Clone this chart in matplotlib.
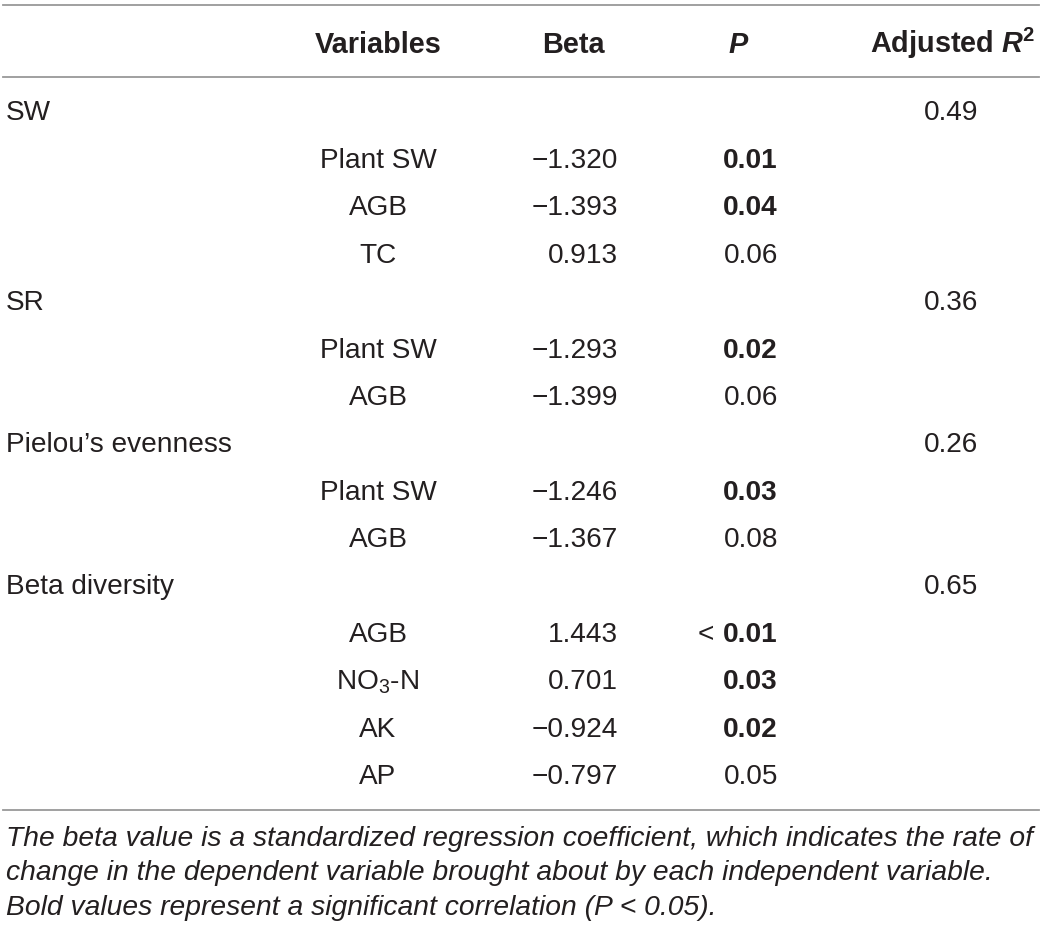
import matplotlib
matplotlib.use("Agg")
import matplotlib.pyplot as plt

plt.rcParams['font.family'] = ['Liberation Sans', 'DejaVu Sans']
plt.rcParams['mathtext.fontset'] = 'custom'
plt.rcParams['mathtext.rm'] = 'Liberation Sans'
plt.rcParams['mathtext.it'] = 'Liberation Sans:italic'
plt.rcParams['mathtext.bf'] = 'Liberation Sans:bold'
plt.rcParams['mathtext.bfit'] = 'Liberation Sans:bold:italic'

# table contents
groups = ["SW", "SR", "Pielou\u2019s evenness", "Beta diversity"]
adj_r2 = ["0.49", "0.36", "0.26", "0.65"]
variables = [
    ["Plant SW", "AGB", "TC"],
    ["Plant SW", "AGB"],
    ["Plant SW", "AGB"],
    ["AGB", "NO$_3$-N", "AK", "AP"],
]
betas = [
    ["\u22121.320", "\u22121.393", "0.913"],
    ["\u22121.293", "\u22121.399"],
    ["\u22121.246", "\u22121.367"],
    ["1.443", "0.701", "\u22120.924", "\u22120.797"],
]
pvals = [
    ["0.01", "0.04", "0.06"],
    ["0.02", "0.06"],
    ["0.03", "0.08"],
    ["0.01", "0.03", "0.02", "0.05"],
]
p_bold = [
    [True, True, False],
    [True, False],
    [True, False],
    [True, True, True, False],
]
p_less = [
    [False, False, False],
    [False, False],
    [False, False],
    [True, False, False, False],
]
headers = ["Variables", "Beta", "$\\bfit{P}$", "Adjusted $\\bfit{R}^{\\mathbf{2}}$"]
footnote = [
    "The beta value is a standardized regression coefficient, which indicates the rate of",
    "change in the dependent variable brought about by each independent variable.",
    "Bold values represent a significant correlation (P < 0.05).",
]

W, H = 1042, 934
fig = plt.figure(figsize=(W / 100, H / 100), dpi=100)
ax = fig.add_axes([0, 0, 1, 1])
ax.set_xlim(0, W)
ax.set_ylim(H, 0)
ax.axis('off')

fs = 20.2
fs_head = 20.8
col = '#231f20'
line_col = '#999999'

x_first = 6
x_var = 378
x_beta_h = 573
x_beta = 618
x_p = 778
x_r2 = 1035
x_r2v = 978

y_head = 45
row_h = 47.4
y0 = 113.5

# rules
for yl in (5, 77, 810):
    ax.plot([3, 1039], [yl, yl], color=line_col, lw=1.3)

ax.text(x_var, y_head, headers[0], ha='center', va='center', fontsize=fs_head, weight='bold', color=col)
ax.text(x_beta_h, y_head, headers[1], ha='center', va='center', fontsize=fs_head, weight='bold', color=col)
ax.text(739, y_head, headers[2], ha='center', va='center', fontsize=fs_head, color=col)
ax.text(x_r2, y_head - 2, headers[3], ha='right', va='center', fontsize=fs_head, weight='bold', color=col)

y = y0
for g, name in enumerate(groups):
    ax.text(x_first, y, name, ha='left', va='center', fontsize=fs, color=col)
    ax.text(x_r2v, y, adj_r2[g], ha='right', va='center', fontsize=fs, color=col)
    y += row_h
    for k, v in enumerate(variables[g]):
        ax.text(x_var, y, v, ha='center', va='center', fontsize=fs, color=col)
        ax.text(x_beta, y, betas[g][k], ha='right', va='center', fontsize=fs, color=col)
        ax.text(x_p, y, pvals[g][k], ha='right', va='center', fontsize=fs, color=col,
                weight='bold' if p_bold[g][k] else 'normal')
        if p_less[g][k]:
            ax.text(x_p - 64, y, "<", ha='right', va='center', fontsize=fs, color=col)
        y += row_h

for i, line in enumerate(footnote):
    ax.text(x_first, 839 + i * 34.5, line, ha='left', va='center', fontsize=20.3,
            style='italic', color=col)

fig.savefig("out.png", dpi=100)
